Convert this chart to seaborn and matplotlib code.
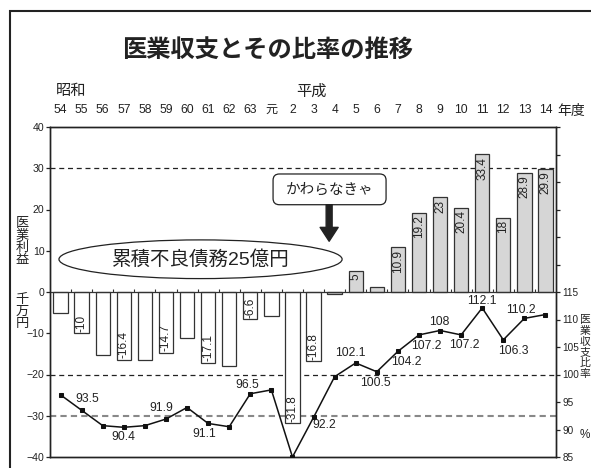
import matplotlib
matplotlib.use("Agg")
import matplotlib.pyplot as plt
import seaborn as sns
import numpy as np
import pandas as pd
from matplotlib.patches import Ellipse, FancyBboxPatch, Rectangle

# ---- data ----
years = ["54", "55", "56", "57", "58", "59", "60", "61", "62", "63", "元",
         "2", "3", "4", "5", "6", "7", "8", "9", "10", "11", "12", "13", "14"]
profit = [-5.0, -10, -15.3, -16.4, -16.6, -14.7, -11.1, -17.1, -18.0, -6.6, -5.8,
          -31.8, -16.8, -0.6, 5, 1.2, 10.9, 19.2, 23, 20.4, 33.4, 18, 28.9, 29.9]
ratio = [96.3, 93.5, 90.7, 90.4, 90.7, 91.9, 94.0, 91.1, 90.5, 96.5, 97.2,
         85.0, 92.2, 99.6, 102.1, 100.5, 104.2, 107.2, 108, 107.2, 112.1, 106.3, 110.2, 110.9]
profit_labeled = [1, 3, 5, 7, 9, 11, 12, 14, 16, 17, 18, 19, 20, 21, 22, 23]
ratio_labeled = [1, 3, 5, 7, 9, 12, 14, 15, 16, 17, 18, 19, 20, 21, 22]
ratio_offsets = {1: (6, 11), 3: (0, -10), 5: (-5, 11), 7: (-4, -11), 9: (-3, 9),
                 12: (11, -8), 14: (-5, 10), 15: (-1, -11), 16: (8, -11), 17: (7, -11),
                 18: (-1, 8), 19: (3, -10), 20: (0, 7), 21: (10, -11), 22: (-3, 8)}

sns.set_theme(style="white")
plt.rcParams["font.family"] = ["Liberation Sans", "Noto Sans CJK JP", "DejaVu Sans"]
plt.rcParams["axes.edgecolor"] = "#222222"
plt.rcParams["text.color"] = "#222222"
plt.rcParams["xtick.color"] = "#222222"
plt.rcParams["ytick.color"] = "#222222"

W, H = 591, 468
fig = plt.figure(figsize=(W / 100, H / 100), dpi=100)
fig.patch.set_facecolor("white")
L, R, T, B = 50, 556, 127, 457
ax = fig.add_axes([L / W, 1 - B / H, (R - L) / W, (B - T) / H])
ax.set_facecolor("none")

df = pd.DataFrame({"year": years, "profit": profit, "ratio": ratio})
colors = ["#d6d6d6" if v > -1 else "white" for v in profit]

# reference lines (behind bars)
ax.axhline(30, ls=(0, (4, 3)), color="#222222", lw=0.9, zorder=0.5)
ax.axhline(-20, ls=(0, (4, 3)), color="#222222", lw=0.9, zorder=0.5)
ax.axhline(-30, ls=(0, (3, 2)), color="#888888", lw=1.5, zorder=0.5)

sns.barplot(data=df, x="year", y="profit", hue="year", palette=colors, order=years,
            hue_order=years, legend=False, errorbar=None, saturation=1, width=0.68,
            edgecolor="#333333", linewidth=0.9, ax=ax, zorder=2)
ax.axhline(0, color="#333333", lw=0.9, zorder=3)
ax.vlines(np.arange(0.5, len(years) - 1, 1), 0, 0.8, color="#333333", lw=0.8, zorder=3)

for i in profit_labeled:
    v = profit[i]
    if v > 0:
        ax.text(i, v - 0.6, f"{v:g}", rotation=90, ha="center", va="top", fontsize=8.5, zorder=4)
    else:
        ax.text(i, v + 0.4, f"{v:g}", rotation=90, ha="center", va="bottom", fontsize=8.5, zorder=4)

ax.set_xlim(-0.5, len(years) - 0.5)
ax.set_ylim(-40, 40)
ax.set_yticks(range(-40, 41, 10))
ax.set_xticks(range(len(years)))
ax.set_xticklabels(years)
ax.tick_params(axis="x", top=False, bottom=False, labeltop=True, labelbottom=False,
               length=0, pad=8, labelsize=8.7)
ax.tick_params(axis="y", left=True, length=3, width=0.9, pad=1, labelsize=7.6, direction="out")
ax.set_xlabel("")
ax.set_ylabel("")
for s in ax.spines.values():
    s.set_linewidth(1.0)
    s.set_color("#222222")

# ratio line on twin axis
ax2 = ax.twinx()
ax2.set_facecolor("none")
sns.lineplot(x=np.arange(len(years)), y=ratio, ax=ax2, color="#111111", lw=1.1,
             marker="s", markersize=3.3, markeredgecolor="#111111", zorder=5)
ax2.set_ylim(85, 145)
ax2.set_yticks(range(85, 146, 5))
ax2.set_yticklabels([str(t) if t <= 115 else "" for t in range(85, 146, 5)])
ax2.tick_params(axis="y", right=True, length=3, width=0.9, pad=1.5, labelsize=7.2, direction="out")
ax2.set_xlim(-0.5, len(years) - 0.5)
for s in ax2.spines.values():
    s.set_linewidth(1.0)
    s.set_color("#222222")

for i in ratio_labeled:
    dx, dy = ratio_offsets[i]
    ax2.annotate(f"{ratio[i]:g}", (i, ratio[i]), xytext=(dx, dy), textcoords="offset pixels",
                 ha="center", va="center", fontsize=8.7, zorder=6)

# callouts
ell = Ellipse((6.64, 7.94), width=13.43, height=9.38, fc="white", ec="#222222", lw=0.9, zorder=4)
ax.add_patch(ell)
ax.text(6.64, 7.94, "累積不良債務25億円", ha="center", va="center", fontsize=14, zorder=5)

box = FancyBboxPatch((10.08, 21.16), 5.36, 7.45, boxstyle="round,pad=0,rounding_size=0.3",
                     mutation_aspect=5.07, fc="white", ec="#222222", lw=0.9, zorder=4)
ax.add_patch(box)
ax.text(12.76, 24.9, "かわらなきゃ", ha="center", va="center", fontsize=10.5, zorder=5)
ax.annotate("", xy=(12.74, 12.3), xytext=(12.74, 21.16),
            arrowprops=dict(width=4.3, headwidth=13, headlength=10, color="#222222", shrink=0),
            zorder=5)

# figure-level texts
def ftext(x, y, s, **kw):
    fig.text(x / W, 1 - y / H, s, **kw)

ftext(268, 50, "医業収支とその比率の推移", fontsize=17.5, fontweight="bold", ha="center", va="center")
ftext(71, 91.5, "昭和", fontsize=11, ha="center", va="center")
ftext(311, 91.5, "平成", fontsize=11, ha="center", va="center")
ftext(571, 111.5, "年度", fontsize=10, ha="center", va="center")
ftext(22, 241.5, "医\n業\n利\n益", fontsize=9.5, ha="center", va="center", linespacing=1.0)
ftext(22, 312, "千\n万\n円", fontsize=9.5, ha="center", va="center", linespacing=1.0)
ftext(585, 315, "医\n業\n収\n支\n比\n率", fontsize=7.8, ha="center", va="top", linespacing=1.1)
ftext(585, 435, "%", fontsize=8.5, ha="center", va="center")

fig.patches.append(Rectangle((10 / W, -0.1), 1.2, 1 - 11 / H + 0.1, transform=fig.transFigure,
                             fill=False, ec="#222222", lw=1.5))

fig.savefig("out.png", dpi=100)
